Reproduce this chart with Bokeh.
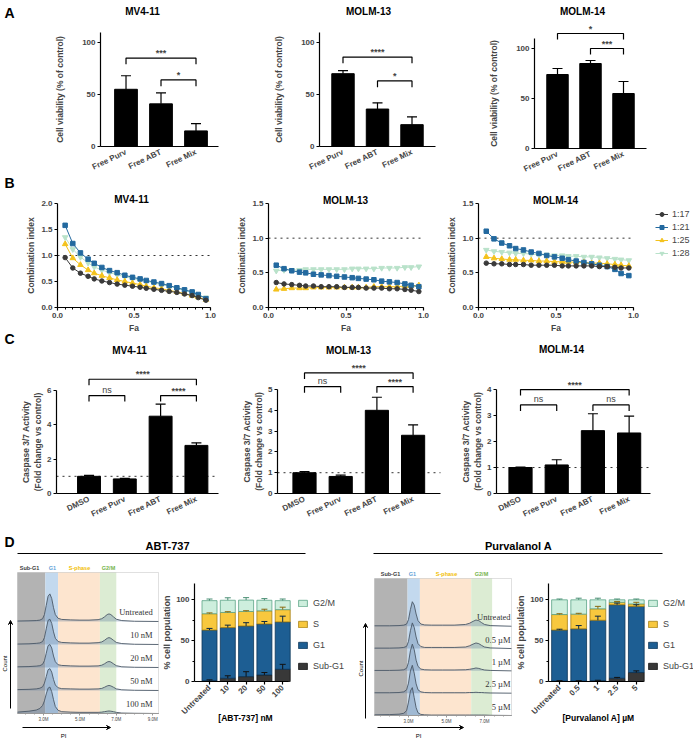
import numpy as np
from bokeh.plotting import figure
from bokeh.models import (Range1d, FixedTicker, Label, Arrow, VeeHead, Legend, BoxAnnotation,
                          LegendItem, ColumnDataSource, Whisker, TeeHead, NumeralTickFormatter)
from bokeh.layouts import row, column
from bokeh.embed import file_html
from bokeh.resources import INLINE

SANS = "Liberation Sans"
SERIF = "Liberation Serif"

# ---------------- DATA ----------------
# Panel A: cell viability (% of control)
A_cats = ["Free Purv", "Free ABT", "Free Mix"]
A_mv411 = [55, 41, 15]
A_mv411_err = [13, 10.5, 7]
A_molm13 = [70, 36, 21]
A_molm13_err = [3, 6, 7.5]
A_molm14 = [74, 85, 55]
A_molm14_err = [6, 3, 12]
A_mv411_sig = [(1, 3, 85, "***"), (2, 3, 64, "*")]
A_molm13_sig = [(1, 3, 86, "****"), (2, 3, 63, "*")]
A_molm14_sig = [(1, 3, 115, "*"), (2, 3, 100, "***")]

# Panel B: combination index vs Fa
Fa = [0.05, 0.10, 0.15, 0.20, 0.24, 0.29, 0.34, 0.39, 0.44, 0.49,
      0.54, 0.58, 0.63, 0.68, 0.73, 0.78, 0.83, 0.88, 0.92, 0.97]
ratios = ["1:17", "1:21", "1:25", "1:28"]
B_mv411_17 = [0.96, 0.76, 0.66, 0.60, 0.55, 0.51, 0.48, 0.45, 0.43, 0.41, 0.39, 0.37, 0.35, 0.33, 0.31, 0.29, 0.26, 0.23, 0.19, 0.14]
B_mv411_21 = [1.58, 1.23, 1.05, 0.93, 0.85, 0.77, 0.71, 0.67, 0.62, 0.58, 0.55, 0.52, 0.49, 0.46, 0.42, 0.38, 0.34, 0.30, 0.25, 0.17]
B_mv411_25 = [1.22, 0.95, 0.82, 0.72, 0.66, 0.61, 0.57, 0.53, 0.50, 0.47, 0.44, 0.41, 0.38, 0.36, 0.33, 0.30, 0.27, 0.23, 0.20, 0.15]
B_mv411_28 = [1.35, 1.12, 0.97, 0.86, 0.78, 0.72, 0.67, 0.63, 0.59, 0.56, 0.53, 0.50, 0.47, 0.44, 0.41, 0.37, 0.33, 0.29, 0.24, 0.19]
B_molm13_17 = [0.36, 0.34, 0.33, 0.32, 0.31, 0.31, 0.30, 0.30, 0.30, 0.29, 0.29, 0.29, 0.28, 0.28, 0.28, 0.27, 0.27, 0.26, 0.25, 0.23]
B_molm13_21 = [0.61, 0.56, 0.53, 0.51, 0.50, 0.48, 0.47, 0.46, 0.45, 0.44, 0.43, 0.42, 0.41, 0.40, 0.38, 0.37, 0.36, 0.34, 0.32, 0.30]
B_molm13_25 = [0.26, 0.27, 0.28, 0.28, 0.28, 0.29, 0.29, 0.29, 0.29, 0.29, 0.29, 0.29, 0.29, 0.30, 0.30, 0.30, 0.30, 0.31, 0.31, 0.32]
B_molm13_28 = [0.53, 0.54, 0.54, 0.54, 0.55, 0.55, 0.55, 0.55, 0.55, 0.55, 0.56, 0.56, 0.56, 0.56, 0.57, 0.57, 0.57, 0.58, 0.58, 0.59]
B_molm14_17 = [0.64, 0.63, 0.63, 0.62, 0.62, 0.62, 0.61, 0.61, 0.61, 0.61, 0.60, 0.60, 0.60, 0.60, 0.60, 0.59, 0.59, 0.58, 0.57, 0.57]
B_molm14_21 = [1.10, 0.99, 0.93, 0.89, 0.85, 0.83, 0.80, 0.78, 0.75, 0.73, 0.71, 0.69, 0.67, 0.65, 0.63, 0.61, 0.59, 0.55, 0.49, 0.46]
B_molm14_25 = [0.73, 0.71, 0.70, 0.69, 0.69, 0.68, 0.68, 0.67, 0.67, 0.66, 0.66, 0.66, 0.65, 0.65, 0.64, 0.64, 0.63, 0.62, 0.61, 0.60]
B_molm14_28 = [0.83, 0.81, 0.80, 0.79, 0.78, 0.78, 0.77, 0.76, 0.76, 0.75, 0.75, 0.74, 0.74, 0.73, 0.73, 0.72, 0.71, 0.70, 0.69, 0.68]

# Panel C: caspase 3/7 activity (fold change vs control)
C_cats = ["DMSO", "Free Purv", "Free ABT", "Free Mix"]
C_mv411 = [1.0, 0.85, 4.5, 2.8]
C_mv411_err = [0.05, 0.03, 0.7, 0.15]
C_molm13 = [1.0, 0.82, 4.0, 2.8]
C_molm13_err = [0.05, 0.06, 0.63, 0.5]
C_molm14 = [1.0, 1.1, 2.42, 2.33]
C_molm14_err = [0.02, 0.2, 0.65, 0.65]
C_mv411_sig = [(1, 4, 6.65, "****"), (1, 2, 5.7, "ns"), (3, 4, 5.7, "****")]
C_molm13_sig = [(1, 4, 5.8, "****"), (1, 2, 5.14, "ns"), (3, 4, 5.14, "****")]
C_molm14_sig = [(1, 4, 4.0, "****"), (1, 2, 3.41, "ns"), (3, 4, 3.41, "ns")]

# Panel D: cell cycle distribution (%)
phases = ["Sub-G1", "G1", "S", "G2/M"]
D_abt_cats = ["Untreated", "10", "20", "50", "100"]
D_abt_subg1 = [1, 4, 6, 8, 15]
D_abt_g1 = [62, 62, 62, 62.5, 58]
D_abt_s = [20, 18.5, 17.7, 16, 15]
D_abt_g2m = [16, 15, 14, 13, 11]
D_abt_subg1_err = [1, 3, 6, 3, 6]
D_abt_g1_err = [2, 3, 4, 3, 7]
D_abt_s_err = [1, 1, 1, 2, 3]
D_abt_g2m_err = [2, 3, 3, 2, 2]

D_purv_cats = ["Untreated", "0.5", "1", "2.5", "5"]
D_purv_subg1 = [0.5, 0.5, 1, 4, 11]
D_purv_g1 = [62.5, 64, 74, 90, 81]
D_purv_s = [19, 18, 14, 3, 3]
D_purv_g2m = [18, 17.5, 11, 3, 5]
D_purv_subg1_err = [0.5, 0.5, 0.5, 1, 2]
D_purv_g1_err = [1, 4, 5, 2, 2]
D_purv_s_err = [1, 1, 3, 1, 2]
D_purv_g2m_err = [1, 2, 2, 1, 1]

# Flow cytometry histograms (PI, millions) – ABT-737
hist_abt_labels = ["Untreated", "10 nM", "20 nM", "50 nM", "100 nM"]
hist_abt_gates = [1.57, 3.1, 3.8, 6.1, 7.0]
hist_abt_pi = [1.57, 2.2, 2.6, 2.8, 2.95, 3.05, 3.15, 3.25, 3.35, 3.45, 3.55, 3.65, 3.8, 4.0,
               4.5, 5.0, 5.5, 6.0, 6.2, 6.35, 6.5, 6.6, 6.7, 6.85, 7.0, 7.3, 8.0, 9.32]
hist_abt_untr = [0.02, 0.03, 0.04, 0.06, 0.12, 0.30, 0.70, 1.10, 1.20, 1.00, 0.60, 0.30, 0.14, 0.09, 0.07, 0.06, 0.06, 0.08, 0.12, 0.20, 0.30, 0.33, 0.30, 0.20, 0.10, 0.04, 0.01, 0.00]
hist_abt_10 = [0.02, 0.03, 0.05, 0.07, 0.13, 0.30, 0.68, 1.05, 1.10, 0.92, 0.55, 0.27, 0.13, 0.09, 0.07, 0.06, 0.06, 0.08, 0.11, 0.18, 0.27, 0.30, 0.27, 0.18, 0.09, 0.04, 0.01, 0.00]
hist_abt_20 = [0.03, 0.04, 0.06, 0.08, 0.14, 0.30, 0.62, 0.95, 1.00, 0.85, 0.50, 0.25, 0.12, 0.09, 0.07, 0.06, 0.06, 0.07, 0.10, 0.16, 0.24, 0.26, 0.24, 0.16, 0.08, 0.03, 0.01, 0.00]
hist_abt_50 = [0.04, 0.05, 0.07, 0.10, 0.16, 0.32, 0.60, 0.90, 0.95, 0.80, 0.48, 0.24, 0.12, 0.08, 0.07, 0.06, 0.06, 0.07, 0.09, 0.14, 0.20, 0.22, 0.20, 0.14, 0.07, 0.03, 0.01, 0.00]
hist_abt_100 = [0.06, 0.10, 0.15, 0.22, 0.35, 0.55, 0.85, 1.10, 1.15, 0.95, 0.60, 0.30, 0.14, 0.08, 0.06, 0.05, 0.05, 0.05, 0.06, 0.08, 0.10, 0.11, 0.10, 0.08, 0.05, 0.02, 0.01, 0.00]

# Flow cytometry histograms – Purvalanol A
hist_purv_labels = ["Untreated", "0.5 µM", "1 µM", "2.5 µM", "5 µM"]
hist_purv_gates = [1.21, 2.95, 3.6, 6.3, 7.4]
hist_purv_pi = [1.21, 2.0, 2.5, 2.75, 2.9, 3.0, 3.1, 3.2, 3.3, 3.4, 3.5, 3.65, 3.85,
                4.2, 4.8, 5.4, 6.0, 6.2, 6.4, 6.55, 6.7, 6.85, 7.0, 7.3, 8.42]
hist_purv_untr = [0.02, 0.02, 0.03, 0.05, 0.10, 0.30, 0.75, 1.10, 0.95, 0.55, 0.25, 0.10, 0.06, 0.05, 0.05, 0.05, 0.08, 0.13, 0.22, 0.28, 0.25, 0.16, 0.08, 0.03, 0.00]
hist_purv_05 = [0.02, 0.02, 0.03, 0.05, 0.10, 0.32, 0.80, 1.15, 0.95, 0.52, 0.22, 0.09, 0.05, 0.05, 0.05, 0.05, 0.07, 0.12, 0.20, 0.25, 0.22, 0.14, 0.07, 0.03, 0.00]
hist_purv_1 = [0.02, 0.02, 0.03, 0.05, 0.12, 0.38, 0.90, 1.20, 0.95, 0.48, 0.20, 0.08, 0.05, 0.04, 0.04, 0.04, 0.05, 0.07, 0.10, 0.13, 0.11, 0.07, 0.04, 0.02, 0.00]
hist_purv_25 = [0.02, 0.02, 0.03, 0.06, 0.15, 0.45, 1.00, 1.25, 0.90, 0.42, 0.15, 0.06, 0.03, 0.02, 0.02, 0.02, 0.02, 0.03, 0.03, 0.04, 0.03, 0.03, 0.02, 0.01, 0.00]
hist_purv_5 = [0.03, 0.04, 0.06, 0.10, 0.22, 0.60, 1.10, 1.25, 0.80, 0.35, 0.12, 0.05, 0.03, 0.02, 0.02, 0.02, 0.02, 0.02, 0.02, 0.02, 0.02, 0.02, 0.02, 0.01, 0.00]

panel_letters = ["A", "B", "C", "D"]

# ---------------- STYLE ----------------
RATIO_COLORS = ["#3a3a3a", "#23699f", "#f4c21c", "#b9e2ca"]
RATIO_MARKERS = ["circle", "square", "triangle", "inverted_triangle"]
RATIO_SIZES = [4.5, 4.5, 5.5, 5.5]
PHASE_FILL = ["#383838", "#1d5e93", "#f8c83e", "#cdeedd"]
PHASE_LINE = ["#111111", "#0c3558", "#a47d12", "#5aa386"]
PHASE_ERR = ["#111111", "#0c2740", "#8a6a10", "#4a8f74"]
GATE_COLORS = ["#b3b3b3", "#c3d9ee", "#fde5cf", "#dcecd3"]
HEADER_COLORS = ["#404040", "#5fa3d9", "#f2bd00", "#74b44a"]


def make_fig(box, abox, xr, yr, ybound=None):
    """box: figure bounds in page px; abox: axes box in page px that maps to xr / yr."""
    fx0, fx1, fy0, fy1 = box
    lx0, lx1, ly0, ly1 = abox
    sx = (lx1 - lx0) / (xr[1] - xr[0])
    sy = (ly1 - ly0) / (yr[1] - yr[0])
    X0 = xr[0] - (lx0 - fx0) / sx
    X1 = xr[1] + (fx1 - lx1) / sx
    Y0 = yr[0] - (fy1 - ly1) / sy
    Y1 = yr[1] + (ly0 - fy0) / sy
    p = figure(width=fx1 - fx0, height=fy1 - fy0,
               x_range=Range1d(X0, X1), y_range=Range1d(Y0, Y1),
               output_backend="svg", toolbar_location=None, title_location=None,
               min_border_left=0, min_border_right=0, min_border_top=0, min_border_bottom=0)
    p.outline_line_color = None
    p.xgrid.visible = False
    p.ygrid.visible = False
    p.xaxis.fixed_location = yr[0]
    p.xaxis.bounds = (xr[0], xr[1])
    p.yaxis.fixed_location = xr[0]
    p.yaxis.bounds = ybound if ybound is not None else (yr[0], yr[1])
    for ax in list(p.xaxis) + list(p.yaxis):
        ax.axis_line_color = "black"
        ax.axis_line_width = 1.2
        ax.major_tick_line_color = "black"
        ax.major_tick_line_width = 1.2
        ax.major_tick_in = 0
        ax.major_tick_out = 3
        ax.minor_tick_line_color = None
        ax.major_label_text_font = SANS
        ax.major_label_text_font_size = "8px"
        ax.major_label_text_font_style = "bold"
        ax.major_label_standoff = 2
        ax.axis_label_text_font = SANS
        ax.axis_label_text_font_size = "8.5px"
        ax.axis_label_text_font_style = "bold"
        ax.axis_label_standoff = 3
    return p, (fx0, fy1)


def T(p, fr, X, Y, text, size=8, bold=True, align="center", baseline="middle",
      color="black", font=SANS, angle=0.0):
    ox, oy = fr
    p.add_layout(Label(x=X - ox, y=oy - Y, x_units="screen", y_units="screen", text=text,
                       text_font=font, text_font_size=f"{size}px",
                       text_font_style="bold" if bold else "normal",
                       text_align=align, text_baseline=baseline, text_color=color, angle=angle))


def AR(p, fr, X0, Y0, X1, Y1):
    ox, oy = fr
    p.add_layout(Arrow(x_start=X0 - ox, y_start=oy - Y0, x_end=X1 - ox, y_end=oy - Y1,
                       start_units="screen", end_units="screen", line_width=1,
                       line_color="black",
                       end=VeeHead(size=4, line_color="black", fill_color="black", line_width=1)))


def bar_panel(box, abox, xr, yr, bound, cats, vals, errs, sigs, drop, ylabel, yticks,
              title, tx, ty, lab_standoff, width=0.65, dotted=False):
    p, fr = make_fig(box, abox, xr, yr, bound)
    idx = list(range(1, len(cats) + 1))
    hi = [v + e for v, e in zip(vals, errs)]
    src = ColumnDataSource(dict(x=idx, v=vals, hi=hi))
    if dotted:
        p.segment(x0=[xr[0]], x1=[xr[1]], y0=[1], y1=[1], line_dash="dotted",
                  line_color="#333333", line_width=1)
    p.vbar(x="x", top="v", width=width, source=src, fill_color="black", line_color="black")
    p.add_layout(Whisker(base="x", lower="v", upper="hi", source=src, dimension="height",
                         line_width=1.2, line_color="black", level="overlay",
                         upper_head=TeeHead(size=10, line_width=1.2, line_color="black"),
                         lower_head=None))
    for a, b, h, s in sigs:
        p.multi_line(xs=[[a, a, b, b]], ys=[[h - drop, h, h, h - drop]],
                     line_color="black", line_width=1.2)
        p.add_layout(Label(x=(a + b) / 2, y=h, text=s, text_align="center",
                           text_baseline="bottom", y_offset=0 if s != "ns" else 1,
                           text_font=SANS, text_font_size="9px",
                           text_font_style="bold" if s != "ns" else "normal"))
    p.xaxis.ticker = FixedTicker(ticks=idx)
    p.xaxis.major_label_overrides = {i: c for i, c in zip(idx, cats)}
    p.xaxis.major_label_orientation = 0.45
    p.xaxis.major_tick_line_color = None
    p.yaxis.ticker = FixedTicker(ticks=yticks)
    p.yaxis.axis_label = ylabel
    p.yaxis.axis_label_standoff = lab_standoff
    T(p, fr, tx, ty, title, size=10)
    return p, fr


def ci_panel(box, abox, yr, yticks, series, title, tx, ty, legend_loc=None):
    p, fr = make_fig(box, abox, (0, 1), yr)
    p.segment(x0=[0], x1=[1], y0=[1], y1=[1], line_dash="dotted",
              line_color="#333333", line_width=1)
    rends = {}
    for k in [3, 2, 1, 0]:
        vals = series[k]
        r1 = p.line(Fa, vals, line_color=RATIO_COLORS[k], line_width=1)
        r2 = p.scatter(Fa, vals, marker=RATIO_MARKERS[k], size=RATIO_SIZES[k],
                       fill_color=RATIO_COLORS[k], line_color=RATIO_COLORS[k])
        rends[k] = (r1, r2)
    p.xaxis.ticker = FixedTicker(ticks=[0, 0.5, 1.0], minor_ticks=[i / 20 for i in range(21)])
    p.xaxis.formatter = NumeralTickFormatter(format="0.0")
    p.xaxis.minor_tick_line_color = "black"
    p.xaxis.minor_tick_out = 2
    p.xaxis.minor_tick_in = 0
    p.xaxis.axis_label = "Fa"
    p.xaxis.axis_label_standoff = 2
    p.yaxis.ticker = FixedTicker(ticks=yticks)
    p.yaxis.formatter = NumeralTickFormatter(format="0.0")
    p.yaxis.axis_label = "Combination index"
    p.yaxis.axis_label_standoff = 2
    T(p, fr, tx, ty, title, size=10)
    if legend_loc is not None:
        items = [LegendItem(label=ratios[k], renderers=list(rends[k])) for k in range(4)]
        leg = Legend(items=items, location=legend_loc, border_line_color=None,
                     background_fill_alpha=0, padding=0, margin=0, spacing=3,
                     glyph_width=13, glyph_height=10, label_height=10, label_standoff=4,
                     label_text_font=SANS, label_text_font_size="9px")
        p.add_layout(leg)
    return p, fr


def stack_panel(box, abox, xr, cats, segs, errs, xlabel, xl_x, legend_loc):
    p, fr = make_fig(box, abox, xr, (0, 120))
    idx = np.arange(1, len(cats) + 1)
    bottom = np.zeros(len(cats))
    rends = []
    for k, (seg, err) in enumerate(zip(segs, errs)):
        top = bottom + np.array(seg, dtype=float)
        r = p.vbar(x=idx, bottom=bottom, top=top, width=0.82, fill_color=PHASE_FILL[k],
                   line_color=PHASE_LINE[k], line_width=0.8)
        src = ColumnDataSource(dict(x=idx, lo=top, hi=top + np.array(err, dtype=float)))
        p.add_layout(Whisker(base="x", lower="lo", upper="hi", source=src, level="overlay",
                             line_color=PHASE_ERR[k], line_width=1,
                             upper_head=TeeHead(size=6, line_color=PHASE_ERR[k], line_width=1),
                             lower_head=None))
        rends.append(r)
        bottom = top
    p.xaxis.ticker = FixedTicker(ticks=[int(i) for i in idx])
    p.xaxis.major_label_overrides = {int(i): c for i, c in zip(idx, cats)}
    p.xaxis.major_label_orientation = 0.785
    p.yaxis.ticker = FixedTicker(ticks=[0, 50, 100], minor_ticks=[25, 75])
    p.yaxis.minor_tick_line_color = "black"
    p.yaxis.minor_tick_out = 2
    p.yaxis.minor_tick_in = 0
    p.yaxis.axis_label = "% cell population"
    p.yaxis.axis_label_text_font_size = "9px"
    p.yaxis.axis_label_standoff = 1
    T(p, fr, xl_x, 717, xlabel, size=8.5)
    items = [LegendItem(label=phases[k], renderers=[rends[k]]) for k in [3, 2, 1, 0]]
    leg = Legend(items=items, location=legend_loc, border_line_color=None,
                 background_fill_alpha=0, padding=0, margin=0, spacing=9,
                 glyph_width=11, glyph_height=8, label_height=12, label_standoff=5,
                 label_text_font=SANS, label_text_font_size="9px")
    p.add_layout(leg)
    return p, fr


def hist_panel(box, abox, xr, ytop, gates, pi, traces, labels, lab_x, ticks, minor,
               headers, pi_arrow, pi_xy, count_arrow, count_xy):
    p, fr = make_fig(box, abox, xr, (0, ytop))
    p.quad(left=gates[:-1], right=gates[1:], bottom=0, top=ytop,
           fill_color=GATE_COLORS, line_color=None)
    n = len(traces)
    for i, tr in enumerate(traces):
        base = n - 1 - i
        y2 = base + np.array(tr)
        p.varea(x=pi, y1=np.full(len(pi), float(base)), y2=y2,
                fill_color="#56759a", fill_alpha=0.32)
        p.line(pi, y2, line_color="#4b5866", line_width=0.9)
        p.add_layout(Label(x=lab_x, y=base + 0.4, text=labels[i], text_align="right",
                           text_baseline="middle", text_font=SERIF, text_font_size="8.5px",
                           text_color="#333333"))
    p.add_layout(BoxAnnotation(left=xr[0], right=xr[1], bottom=0, top=ytop, fill_alpha=0,
                               line_color="#999999", line_width=1))
    p.yaxis.visible = False
    ax = p.xaxis
    ax.ticker = FixedTicker(ticks=ticks, minor_ticks=minor)
    ax.major_label_overrides = {t: f"{t:.1f}M" for t in ticks}
    ax.axis_line_color = "#999999"
    ax.axis_line_width = 1
    ax.major_tick_line_color = "#999999"
    ax.major_tick_line_width = 1
    ax.major_tick_out = 2
    ax.minor_tick_line_color = "#999999"
    ax.minor_tick_out = 1
    ax.minor_tick_in = 0
    ax.major_label_text_font_size = "4.5px"
    ax.major_label_text_font_style = "normal"
    ax.major_label_text_color = "#444444"
    ax.major_label_standoff = 1
    for (hx, hy, text), c in zip(headers, HEADER_COLORS):
        T(p, fr, hx, hy, text, size=5.5, color=c)
    AR(p, fr, *pi_arrow)
    T(p, fr, pi_xy[0], pi_xy[1], "PI", size=6, bold=False)
    AR(p, fr, *count_arrow)
    T(p, fr, count_xy[0], count_xy[1], "Count", size=6, bold=False, angle=np.pi / 2)
    return p, fr


def title_fig(box, abox, text, tx, ty):
    p, fr = make_fig(box, abox, (0, 1), (0, 1))
    p.yaxis.visible = False
    p.xaxis.ticker = FixedTicker(ticks=[])
    p.xaxis.major_tick_line_color = None
    p.xaxis.axis_line_width = 1
    T(p, fr, tx, ty, text, size=11)
    return p, fr


# ---------------- LETTER STRIP (A, B, C) ----------------
strip = figure(width=17, height=532, x_range=Range1d(0, 17), y_range=Range1d(0, 532),
               output_backend="svg", toolbar_location=None, title_location=None,
               min_border_left=0, min_border_right=0, min_border_top=0, min_border_bottom=0)
strip.outline_line_color = None
strip.xaxis.visible = False
strip.yaxis.visible = False
strip.xgrid.visible = False
strip.ygrid.visible = False
for letter, ly in zip(panel_letters[:3], [12, 182, 338]):
    T(strip, (0, 532), 4, ly, letter, size=14, align="left")

# ---------------- PANEL A ----------------
A_label = "Cell viability (% of control)"
a1, fa1 = bar_panel((17, 225, 0, 180), (100, 218, 27, 146), (0.271, 3.643), (0, 114.4), (0, 110),
                    A_cats, A_mv411, A_mv411_err, A_mv411_sig, 6, A_label, [0, 50, 100],
                    "MV4-11", 142, 11, 14)
a2, fa2 = bar_panel((225, 480, 0, 180), (319, 435, 27, 146), (0.319, 3.681), (0, 114.4), (0, 110),
                    A_cats, A_molm13, A_molm13_err, A_molm13_sig, 6, A_label, [0, 50, 100],
                    "MOLM-13", 368, 11, 14)
a3, fa3 = bar_panel((480, 693, 0, 180), (534, 646, 28, 148), (0.303, 3.697), (0, 120), (0, 110),
                    A_cats, A_molm14, A_molm14_err, A_molm14_sig, 6, A_label, [0, 50, 100],
                    "MOLM-14", 582, 11, 14)

# ---------------- PANEL B ----------------
b1, fb1 = ci_panel((17, 232, 180, 335), (57, 210, 203, 307), (0, 2), [0, 0.5, 1.0, 1.5, 2.0],
                   [B_mv411_17, B_mv411_21, B_mv411_25, B_mv411_28], "MV4-11", 131, 199)
b2, fb2 = ci_panel((232, 446, 180, 335), (268, 423, 203, 307), (0, 1.5), [0, 0.5, 1.0, 1.5],
                   [B_molm13_17, B_molm13_21, B_molm13_25, B_molm13_28], "MOLM-13", 345, 200)
b3, fb3 = ci_panel((446, 693, 180, 335), (478, 633, 203, 307), (0, 1.5), [0, 0.5, 1.0, 1.5],
                   [B_molm14_17, B_molm14_21, B_molm14_25, B_molm14_28], "MOLM-14", 555, 200,
                   legend_loc=(655 - 446, 335 - 258))

# ---------------- PANEL C ----------------
C_label = "Caspase 3/7 Activity\n(Fold change vs control)"
c1, fc1 = bar_panel((17, 225, 335, 532), (56, 218, 370, 493), (0.092, 4.617), (0, 7.16), (0, 6),
                    C_cats, C_mv411, C_mv411_err, C_mv411_sig, 0.35, C_label, [0, 2, 4, 6],
                    "MV4-11", 129, 350, 1, width=0.64, dotted=True)
c2, fc2 = bar_panel((225, 455, 335, 532), (277, 440, 362, 493), (0.254, 4.757), (0, 6.3), (0, 5),
                    C_cats, C_molm13, C_molm13_err, C_molm13_sig, 0.29, C_label, [0, 1, 2, 3, 4, 5],
                    "MOLM-13", 348, 350, 1, width=0.64, dotted=True)
c3, fc3 = bar_panel((455, 693, 335, 532), (496, 650, 380, 493), (0.337, 4.59), (0, 4.35), (0, 4),
                    C_cats, C_molm14, C_molm14_err, C_molm14_sig, 0.23, C_label, [0, 1, 2, 3, 4],
                    "MOLM-14", 561, 349, 1, width=0.64, dotted=True)

# ---------------- PANEL D ----------------
dl, fdl = title_fig((0, 350, 532, 558), (17, 305, 536, 553), "ABT-737", 167, 545)
T(dl, fdl, 4, 541, panel_letters[3], size=14, align="left")
dr, fdr = title_fig((350, 693, 532, 558), (373, 662, 536, 553), "Purvalanol A", 518, 545)

h1, fh1 = hist_panel((0, 163, 558, 739), (17, 158, 572, 713), (1.57, 9.32), 6.13,
                     hist_abt_gates, hist_abt_pi,
                     [hist_abt_untr, hist_abt_10, hist_abt_20, hist_abt_50, hist_abt_100],
                     hist_abt_labels, 9.0, [3, 5, 7, 9],
                     [2.0, 2.5, 3.5, 4.0, 4.5, 5.5, 6.0, 6.5, 7.5, 8.0, 8.5],
                     [(29, 567, "Sub-G1"), (52, 567, "G1"), (79, 567, "S-phase"), (108, 567, "G2/M")],
                     (22, 727, 110, 727), (63, 735), (10, 708, 10, 620), (4, 663))
s1, fs1 = stack_panel((163, 350, 558, 739), (194, 288, 583, 681), (0.18, 5.317), D_abt_cats,
                      [D_abt_subg1, D_abt_g1, D_abt_s, D_abt_g2m],
                      [D_abt_subg1_err, D_abt_g1_err, D_abt_s_err, D_abt_g2m_err],
                      "[ABT-737] nM", 245, (297 - 163, 739 - 672))
h2, fh2 = hist_panel((350, 514, 558, 739), (374, 511, 578, 715), (1.21, 8.42), 6.14,
                     hist_purv_gates, hist_purv_pi,
                     [hist_purv_untr, hist_purv_05, hist_purv_1, hist_purv_25, hist_purv_5],
                     hist_purv_labels, 8.37, [3, 5, 7],
                     [1.5, 2.0, 2.5, 3.5, 4.0, 4.5, 5.5, 6.0, 6.5, 7.5, 8.0],
                     [(390, 573, "Sub-G1"), (412, 573, "G1"), (446, 573, "S-phase"), (481, 573, "G2/M")],
                     (377, 727, 463, 727), (418, 735), (365, 718, 365, 623), (360, 668))
s2, fs2 = stack_panel((514, 693, 558, 739), (548, 643, 583, 681), (0.427, 5.375), D_purv_cats,
                      [D_purv_subg1, D_purv_g1, D_purv_s, D_purv_g2m],
                      [D_purv_subg1_err, D_purv_g1_err, D_purv_s_err, D_purv_g2m_err],
                      "[Purvalanol A] µM", 598, (647 - 514, 739 - 672))

top_block = row(strip, column(row(a1, a2, a3), row(b1, b2, b3), row(c1, c2, c3)))
layout = column(top_block, row(dl, dr), row(h1, s1, h2, s2))

open("out.html", "w").write(file_html(layout, INLINE))
